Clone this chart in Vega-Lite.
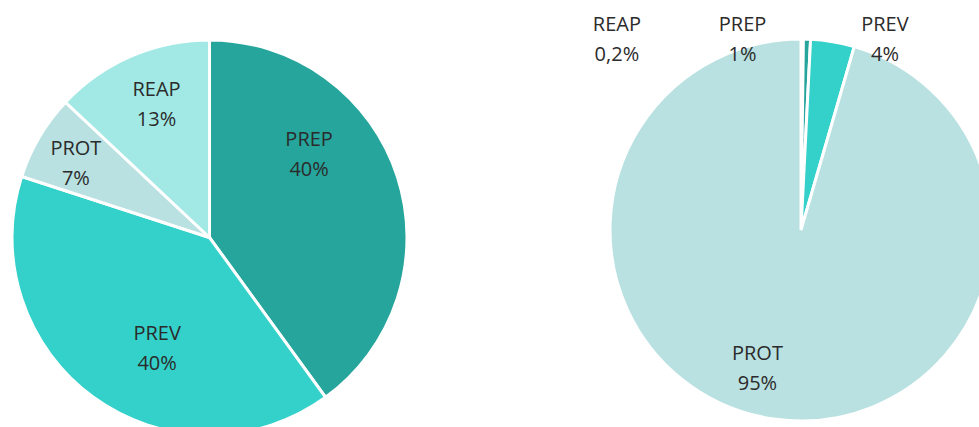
{
  "$schema": "https://vega.github.io/schema/vega-lite/v6.json",
  "padding": 0,
  "bounds": "flush",
  "spacing": 191,
  "background": "white",
  "config": {"view": {"stroke": null}, "text": {"font": "Open Sans", "fontSize": 20, "color": "#2b2b2b", "lineHeight": 30, "lineBreak": "\n", "align": "center", "baseline": "middle", "dy": -14}},
  "hconcat": [
    {
      "width": 419,
      "height": 475,
      "data": {"values": [
        {"cat": "PREP", "value": 40, "label": "PREP\n40%", "ord": 1},
        {"cat": "PREV", "value": 40, "label": "PREV\n40%", "ord": 2},
        {"cat": "PROT", "value": 7, "label": "PROT\n7%", "ord": 3},
        {"cat": "REAP", "value": 13, "label": "REAP\n13%", "ord": 4}
      ]},
      "transform": [{"stack": "value", "groupby": [], "sort": [{"field": "ord", "order": "ascending"}], "as": ["v0", "v1"]}],
      "layer": [
        {"mark": {"type": "arc", "outerRadius": 197.5, "stroke": "white", "strokeWidth": 3},
         "encoding": {
           "theta": {"field": "value", "type": "quantitative", "stack": true, "scale": {"domain": [0, 100]}},
           "order": {"field": "ord", "type": "quantitative"},
           "color": {"field": "cat", "type": "nominal", "scale": {"domain": ["PREP", "PREV", "PROT", "REAP"], "range": ["#25A59C", "#33D1C9", "#B9E1E1", "#A2E9E5"]}, "legend": null}}},
        {"transform": [{"filter": "datum.cat === 'PREP'"}],
         "mark": {"type": "text", "radius": 130, "thetaOffset": 0.873},
         "encoding": {"theta": {"field": "v0", "type": "quantitative", "stack": null}, "text": {"field": "label"}}},
        {"transform": [{"filter": "datum.cat === 'PREV'"}],
         "mark": {"type": "text", "radius": 122, "thetaOffset": 1.072},
         "encoding": {"theta": {"field": "v0", "type": "quantitative", "stack": null}, "text": {"field": "label"}}},
        {"transform": [{"filter": "datum.cat === 'PROT'"}],
         "mark": {"type": "text", "radius": 153, "thetaOffset": 0.195},
         "encoding": {"theta": {"field": "v0", "type": "quantitative", "stack": null}, "text": {"field": "label"}}},
        {"transform": [{"filter": "datum.cat === 'REAP'"}],
         "mark": {"type": "text", "radius": 144, "thetaOffset": 0.44},
         "encoding": {"theta": {"field": "v0", "type": "quantitative", "stack": null}, "text": {"field": "label"}}}
      ]
    },
    {
      "width": 382,
      "height": 460,
      "data": {"values": [
        {"cat": "REAP", "value": 0.2, "label": "REAP\n0,2%", "ord": 1},
        {"cat": "PREP", "value": 0.6, "label": "PREP\n1%", "ord": 2},
        {"cat": "PREV", "value": 3.7, "label": "PREV\n4%", "ord": 3},
        {"cat": "PROT", "value": 95.5, "label": "PROT\n95%", "ord": 4}
      ]},
      "transform": [{"stack": "value", "groupby": [], "sort": [{"field": "ord", "order": "ascending"}], "as": ["v0", "v1"]}],
      "layer": [
        {"mark": {"type": "arc", "outerRadius": 191, "stroke": "white", "strokeWidth": 3},
         "encoding": {
           "theta": {"field": "value", "type": "quantitative", "stack": true, "scale": {"domain": [0, 100]}},
           "order": {"field": "ord", "type": "quantitative"},
           "color": {"field": "cat", "type": "nominal", "scale": {"domain": ["PREP", "PREV", "PROT", "REAP"], "range": ["#25A59C", "#33D1C9", "#B9E1E1", "#A2E9E5"]}, "legend": null}}},
        {"transform": [{"filter": "datum.cat === 'REAP'"}],
         "mark": {"type": "text", "radius": 265, "thetaOffset": -0.768},
         "encoding": {"theta": {"field": "v0", "type": "quantitative", "stack": null}, "text": {"field": "label"}}},
        {"transform": [{"filter": "datum.cat === 'PREP'"}],
         "mark": {"type": "text", "radius": 200, "thetaOffset": -0.309},
         "encoding": {"theta": {"field": "v0", "type": "quantitative", "stack": null}, "text": {"field": "label"}}},
        {"transform": [{"filter": "datum.cat === 'PREV'"}],
         "mark": {"type": "text", "radius": 209, "thetaOffset": 0.363},
         "encoding": {"theta": {"field": "v0", "type": "quantitative", "stack": null}, "text": {"field": "label"}}},
        {"transform": [{"filter": "datum.cat === 'PROT'"}],
         "mark": {"type": "text", "radius": 145, "thetaOffset": 3.164},
         "encoding": {"theta": {"field": "v0", "type": "quantitative", "stack": null}, "text": {"field": "label"}}}
      ]
    }
  ]
}
